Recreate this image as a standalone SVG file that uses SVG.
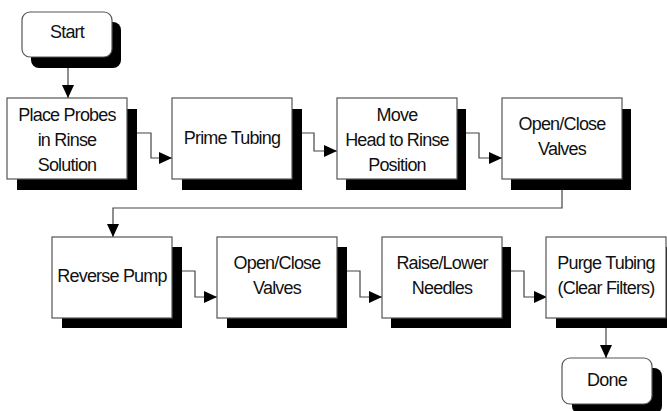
<svg xmlns="http://www.w3.org/2000/svg" width="667" height="411" viewBox="0 0 667 411">
<style>
.shadow{fill:#000}
.box{fill:#fff;stroke:#555;stroke-width:1.2}
.lbl{font-family:"Liberation Sans",Arial,sans-serif;font-size:18px;fill:#111;text-anchor:middle;letter-spacing:-0.8px}
.conn{fill:none;stroke:#444;stroke-width:1.2}
</style>
<defs>
<marker id="arr" viewBox="0 0 13 12" refX="13" refY="6" markerWidth="13" markerHeight="12" markerUnits="userSpaceOnUse" orient="auto">
<path d="M0,0 L13,6 L0,12 z" fill="#000"/>
</marker>
</defs>
<rect width="667" height="411" fill="#fff"/>
<g id="connectors">
<path class="conn" d="M68,57 V98" marker-end="url(#arr)"/>
<path class="conn" d="M137,133 H151 V158 H172" marker-end="url(#arr)"/>
<path class="conn" d="M302,133 H314 V151 H337" marker-end="url(#arr)"/>
<path class="conn" d="M466,133 H479 V158 H502" marker-end="url(#arr)"/>
<path class="conn" d="M562,190 V208 H113 V237" marker-end="url(#arr)"/>
<path class="conn" d="M182,271 H195 V297 H217" marker-end="url(#arr)"/>
<path class="conn" d="M347,271 H360 V297 H382" marker-end="url(#arr)"/>
<path class="conn" d="M511,271 H524 V297 H547" marker-end="url(#arr)"/>
<path class="conn" d="M606,328 V358" marker-end="url(#arr)"/>
</g>
<g id="start">
<rect class="shadow" x="31" y="22" width="90" height="46" rx="8"/>
<rect class="box" x="22" y="12" width="90" height="45" rx="8"/>
<text class="lbl" x="67" y="38">Start</text>
</g>
<g id="place-probes">
<rect class="shadow" x="17" y="109" width="120" height="81"/>
<rect class="box" x="7" y="98" width="120" height="81"/>
<text class="lbl" x="67" y="121">Place Probes</text>
<text class="lbl" x="67" y="146">in Rinse</text>
<text class="lbl" x="67" y="171">Solution</text>
</g>
<g id="prime-tubing">
<rect class="shadow" x="182" y="109" width="120" height="81"/>
<rect class="box" x="172" y="98" width="120" height="81"/>
<text class="lbl" x="232" y="144">Prime Tubing</text>
</g>
<g id="move-head">
<rect class="shadow" x="346" y="109" width="120" height="81"/>
<rect class="box" x="337" y="98" width="120" height="81"/>
<text class="lbl" x="397" y="121">Move</text>
<text class="lbl" x="397" y="146">Head to Rinse</text>
<text class="lbl" x="397" y="171">Position</text>
</g>
<g id="open-close-1">
<rect class="shadow" x="511" y="109" width="120" height="81"/>
<rect class="box" x="502" y="98" width="120" height="81"/>
<text class="lbl" x="562" y="130">Open/Close</text>
<text class="lbl" x="562" y="155">Valves</text>
</g>
<g id="reverse-pump">
<rect class="shadow" x="62" y="247" width="120" height="81"/>
<rect class="box" x="52" y="237" width="120" height="81"/>
<text class="lbl" x="112" y="282">Reverse Pump</text>
</g>
<g id="open-close-2">
<rect class="shadow" x="227" y="247" width="120" height="81"/>
<rect class="box" x="217" y="237" width="120" height="81"/>
<text class="lbl" x="277" y="269">Open/Close</text>
<text class="lbl" x="277" y="294">Valves</text>
</g>
<g id="raise-lower">
<rect class="shadow" x="391" y="247" width="120" height="81"/>
<rect class="box" x="382" y="237" width="120" height="81"/>
<text class="lbl" x="442" y="269">Raise/Lower</text>
<text class="lbl" x="442" y="294">Needles</text>
</g>
<g id="purge-tubing">
<rect class="shadow" x="556" y="247" width="120" height="81"/>
<rect class="box" x="546" y="237" width="120" height="81"/>
<text class="lbl" x="606" y="269">Purge Tubing</text>
<text class="lbl" x="606" y="294">(Clear Filters)</text>
</g>
<g id="done">
<rect class="shadow" x="572" y="368" width="90" height="46" rx="8"/>
<rect class="box" x="562" y="358" width="90" height="46" rx="8"/>
<text class="lbl" x="607" y="386">Done</text>
</g>
</svg>
